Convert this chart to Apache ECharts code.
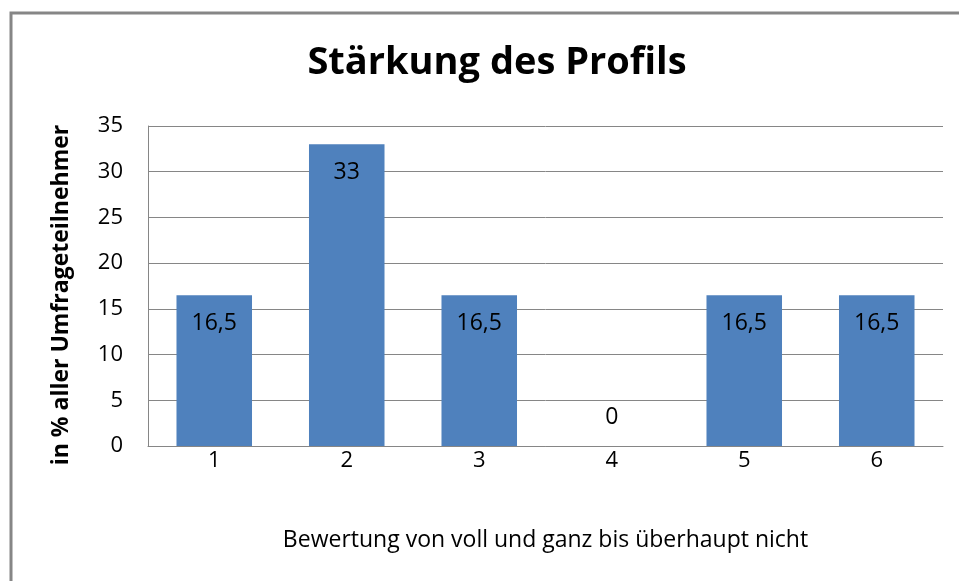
<!DOCTYPE html>
<html lang="de">
<head>
    <meta charset="UTF-8">
    <title>Stärkung des Profils</title>
    <style>
        * {
            margin: 0;
            padding: 0;
        }

        html, body {
            width: 100%;
            height: 100%;
            background: #fff;
        }

        #chart {
            width: 959px;
            height: 581px;
        }
    </style>
    <script src="https://cdnjs.cloudflare.com/ajax/libs/echarts/6.0.0/echarts.min.js"></script>
</head>
<body>
<div id="chart"></div>

<script>
    // Daten
    const categories = ['1', '2', '3', '4', '5', '6']
    const values = [16.5, 33, 16.5, 0, 16.5, 16.5]
    const yTicks = {min: 0, max: 35, step: 5}

    const font = '"Open Sans", Lato, sans-serif'
    const gray = '#868686'

    let chart = echarts.init(document.getElementById('chart'))

    let seriesData = values.map(function (v) {
        let item = {value: v}
        // Nullwert: Beschriftung über der Achse
        if (v === 0) {
            item.label = {position: 'top', distance: 17}
        }
        return item
    })

    let option = {
        animation: false,
        title: {
            text: 'Stärkung des Profils',
            left: 492,
            top: 39,
            textAlign: 'center',
            textStyle: {
                fontFamily: font,
                fontWeight: 'bold',
                fontSize: 38,
                color: '#000'
            }
        },
        graphic: [{
            type: 'rect',
            shape: {x: 11, y: 13, width: 1000, height: 1000},
            style: {fill: 'none', stroke: gray, lineWidth: 3},
            silent: true
        }],
        grid: {
            left: 148,
            right: 16,
            top: 126,
            bottom: 135
        },
        xAxis: {
            type: 'category',
            data: categories,
            name: 'Bewertung von voll und ganz bis überhaupt nicht',
            nameLocation: 'middle',
            nameGap: 83,
            nameTextStyle: {
                fontFamily: font,
                fontSize: 23,
                color: '#000'
            },
            axisLine: {lineStyle: {color: gray, width: 1}},
            axisTick: {show: false},
            axisLabel: {
                fontFamily: font,
                fontSize: 22,
                color: '#000',
                margin: 4
            }
        },
        yAxis: {
            type: 'value',
            min: yTicks.min,
            max: yTicks.max,
            interval: yTicks.step,
            name: 'in % aller Umfrageteilnehmer',
            nameLocation: 'middle',
            nameGap: 75,
            nameTextStyle: {
                fontFamily: font,
                fontWeight: 'bold',
                fontSize: 23,
                color: '#000',
                padding: [0, 18, 0, 0]
            },
            axisLine: {show: true, lineStyle: {color: gray, width: 1}},
            axisTick: {show: false},
            splitLine: {lineStyle: {color: gray, width: 1}},
            axisLabel: {
                fontFamily: font,
                fontSize: 22,
                color: '#000',
                margin: 25
            }
        },
        series: [{
            type: 'bar',
            data: seriesData,
            barWidth: '57%',
            itemStyle: {color: '#4F81BD'},
            label: {
                show: true,
                position: 'insideTop',
                distance: 17,
                fontFamily: font,
                fontSize: 23,
                color: '#000',
                formatter: function (p) {
                    return String(p.value).replace('.', ',')
                }
            }
        }]
    }

    chart.setOption(option)
</script>
</body>
</html>
